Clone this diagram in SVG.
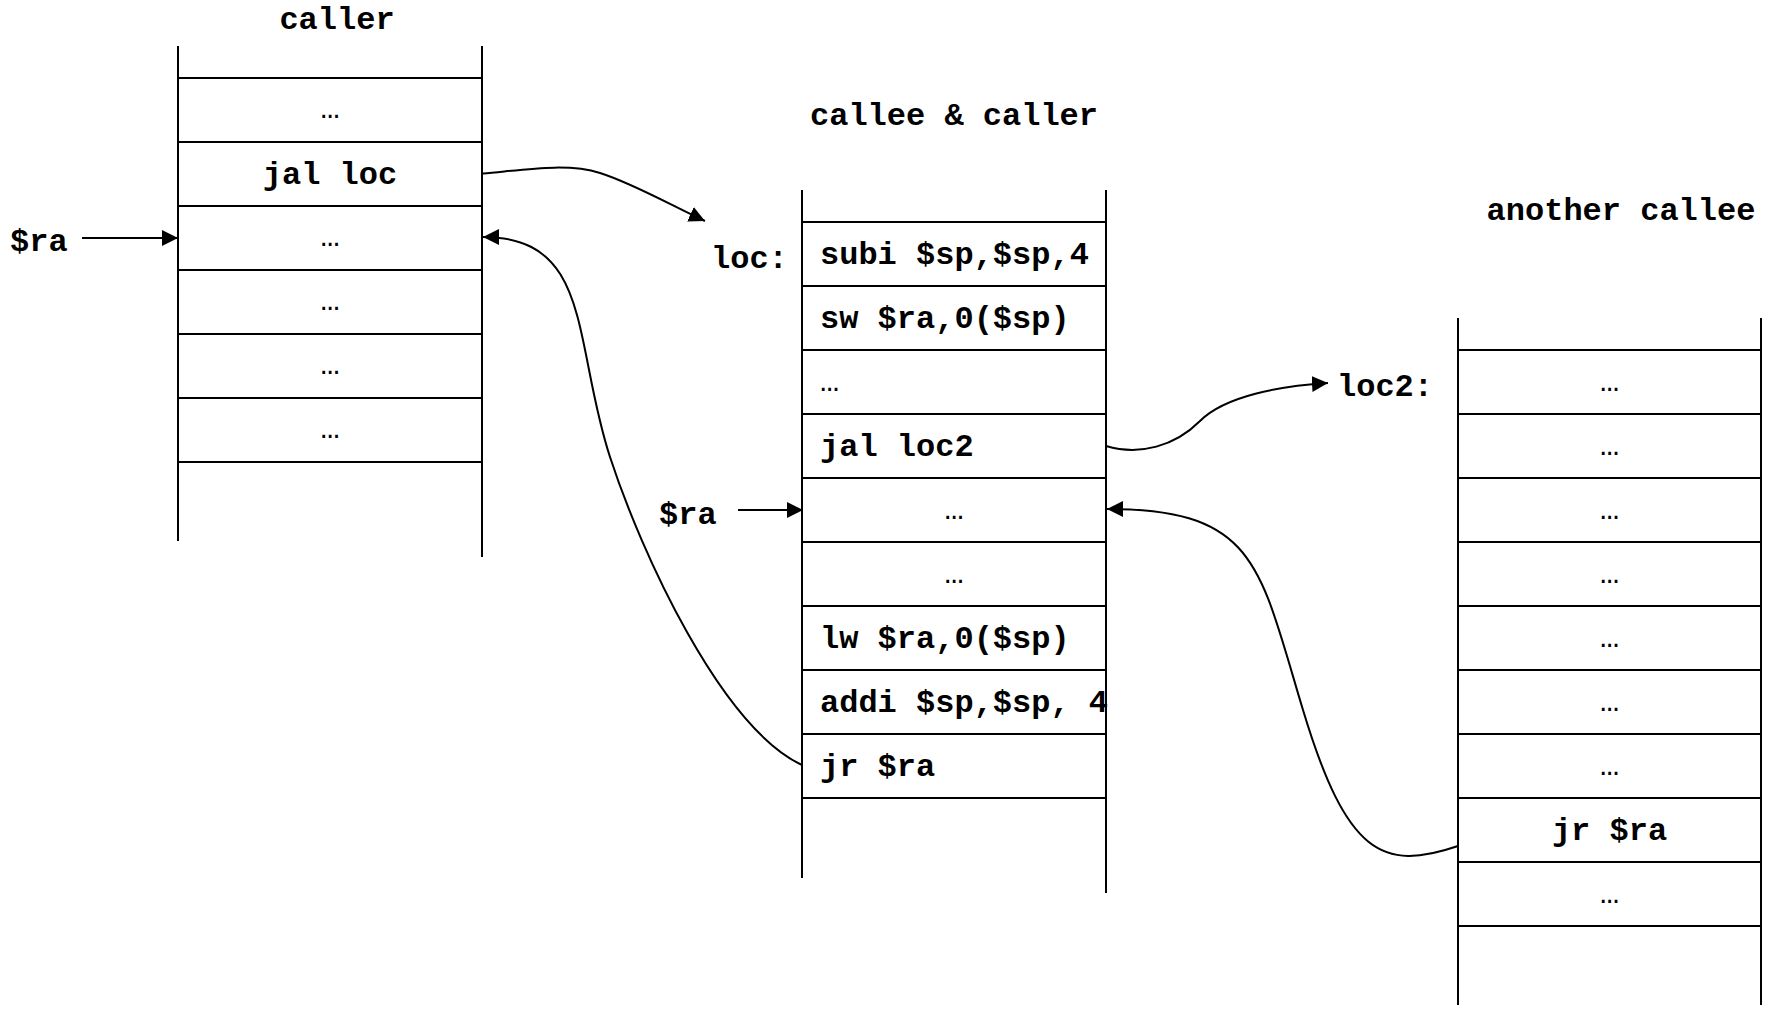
<svg xmlns="http://www.w3.org/2000/svg" width="1769" height="1017" viewBox="0 0 1769 1017">
  <defs>
    <marker id="arrow" markerUnits="userSpaceOnUse" markerWidth="16" markerHeight="16" viewBox="0 0 15 15" refX="15" refY="7.5" orient="auto">
      <path d="M0,0 L15,7.5 L0,15 Z" fill="#000"/>
    </marker>
  </defs>
  <style>
    line { stroke: #000; stroke-width: 2; }
    text { font-family: "Liberation Mono", "Courier New", monospace; font-weight: bold; font-size: 32px; fill: #000; }
    .dots { font-weight: normal; }
    .mid { text-anchor: middle; }
    .edge { fill: none; stroke: #000; stroke-width: 2; marker-end: url(#arrow); }
  </style>
  <rect width="1769" height="1017" fill="#fff"/>

  <!-- caller frame -->
  <g id="caller">
    <text class="mid" x="337" y="29">caller</text>
    <g id="caller-rows">
      <text class="mid dots" x="330" y="118">…</text>
      <text class="mid" x="330" y="184">jal loc</text>
      <text class="mid dots" x="330" y="246">…</text>
      <text class="mid dots" x="330" y="310">…</text>
      <text class="mid dots" x="330" y="374">…</text>
      <text class="mid dots" x="330" y="438">…</text>
    </g>
    <line x1="178" y1="46" x2="178" y2="541"/>
    <line x1="482" y1="46" x2="482" y2="557"/>
    <line x1="178" y1="78" x2="482" y2="78"/>
    <line x1="178" y1="142" x2="482" y2="142"/>
    <line x1="178" y1="206" x2="482" y2="206"/>
    <line x1="178" y1="270" x2="482" y2="270"/>
    <line x1="178" y1="334" x2="482" y2="334"/>
    <line x1="178" y1="398" x2="482" y2="398"/>
    <line x1="178" y1="462" x2="482" y2="462"/>
  </g>

  <!-- callee & caller frame -->
  <g id="callee">
    <text class="mid" x="954" y="125">callee &amp; caller</text>
    <g id="callee-rows">
      <text x="820" y="264">subi $sp,$sp,4</text>
      <text x="820" y="328">sw $ra,0($sp)</text>
      <text class="dots" x="820" y="391">…</text>
      <text x="820" y="456">jal loc2</text>
      <text class="mid dots" x="954" y="519">…</text>
      <text class="mid dots" x="954" y="583">…</text>
      <text x="820" y="648">lw $ra,0($sp)</text>
      <text x="820" y="712">addi $sp,$sp, 4</text>
      <text x="820" y="776">jr $ra</text>
    </g>
    <line x1="802" y1="190" x2="802" y2="878"/>
    <line x1="1106" y1="190" x2="1106" y2="893"/>
    <line x1="802" y1="222" x2="1106" y2="222"/>
    <line x1="802" y1="286" x2="1106" y2="286"/>
    <line x1="802" y1="350" x2="1106" y2="350"/>
    <line x1="802" y1="414" x2="1106" y2="414"/>
    <line x1="802" y1="478" x2="1106" y2="478"/>
    <line x1="802" y1="542" x2="1106" y2="542"/>
    <line x1="802" y1="606" x2="1106" y2="606"/>
    <line x1="802" y1="670" x2="1106" y2="670"/>
    <line x1="802" y1="734" x2="1106" y2="734"/>
    <line x1="802" y1="798" x2="1106" y2="798"/>
  </g>

  <!-- another callee frame -->
  <g id="another-callee">
    <text class="mid" x="1621" y="220">another callee</text>
    <g id="another-rows">
      <text class="mid dots" x="1609.5" y="391">…</text>
      <text class="mid dots" x="1609.5" y="455">…</text>
      <text class="mid dots" x="1609.5" y="519">…</text>
      <text class="mid dots" x="1609.5" y="583">…</text>
      <text class="mid dots" x="1609.5" y="647">…</text>
      <text class="mid dots" x="1609.5" y="711">…</text>
      <text class="mid dots" x="1609.5" y="775">…</text>
      <text class="mid" x="1609.5" y="840">jr $ra</text>
      <text class="mid dots" x="1609.5" y="903">…</text>
    </g>
    <line x1="1458" y1="318" x2="1458" y2="1005"/>
    <line x1="1761" y1="318" x2="1761" y2="1005"/>
    <line x1="1458" y1="350" x2="1761" y2="350"/>
    <line x1="1458" y1="414" x2="1761" y2="414"/>
    <line x1="1458" y1="478" x2="1761" y2="478"/>
    <line x1="1458" y1="542" x2="1761" y2="542"/>
    <line x1="1458" y1="606" x2="1761" y2="606"/>
    <line x1="1458" y1="670" x2="1761" y2="670"/>
    <line x1="1458" y1="734" x2="1761" y2="734"/>
    <line x1="1458" y1="798" x2="1761" y2="798"/>
    <line x1="1458" y1="862" x2="1761" y2="862"/>
    <line x1="1458" y1="926" x2="1761" y2="926"/>
  </g>

  <!-- address labels -->
  <g id="label-ra-caller"><text x="10" y="251">$ra</text></g>
  <g id="label-loc"><text x="711" y="268">loc:</text></g>
  <g id="label-ra-callee"><text x="659" y="524">$ra</text></g>
  <g id="label-loc2"><text x="1337" y="396">loc2:</text></g>

  <!-- connectors -->
  <g id="connectors">
    <path class="edge" d="M82,238 H178"/>
    <path class="edge" d="M738,510 H803"/>
    <path class="edge" d="M483,173.5 C523,170 566.7,162.5 600,173 C633.3,183.5 673,206.3 705,221"/>
    <path class="edge" d="M802,765 C720.6,726.8 641,552 610,457 C572.8,343 593,237 483,237"/>
    <path class="edge" d="M1106,446 C1140,456 1175,446 1200,421 C1225,396 1280,386 1328,383"/>
    <path class="edge" d="M1458,846 C1382.3,871.9 1346.5,854 1303,710 C1259.5,566 1257,509 1107,509"/>
  </g>
</svg>
